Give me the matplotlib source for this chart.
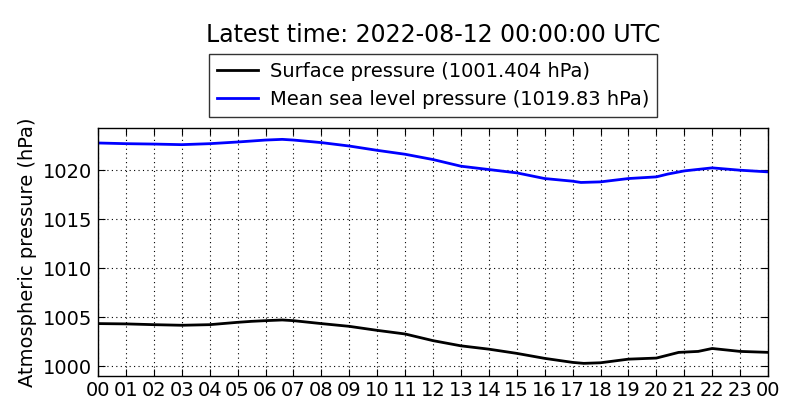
import numpy as np
import matplotlib
matplotlib.use('Agg')
import matplotlib.pyplot as plt

# -------------------------------------------------------------------------
# 데이터 (그림에서 읽은 값, 시간 단위 = UTC hour)
# -------------------------------------------------------------------------
TITLE = 'Latest time: 2022-08-12 00:00:00 UTC'

HOURS_MSL = [0.0, 1.0, 2.0, 3.0, 4.0, 5.0, 6.0, 6.6, 7.0, 8.0, 9.0, 10.0, 11.0,
             12.0, 13.0, 14.0, 15.0, 16.0, 17.0, 17.3, 18.0, 19.0, 20.0, 20.4,
             21.0, 22.0, 23.0, 24.0]
MSL = [1022.78, 1022.71, 1022.67, 1022.61, 1022.71, 1022.88, 1023.08, 1023.15,
       1023.08, 1022.82, 1022.47, 1022.03, 1021.63, 1021.09, 1020.41, 1020.07,
       1019.73, 1019.15, 1018.88, 1018.75, 1018.81, 1019.15, 1019.32, 1019.6,
       1019.93, 1020.24, 1020.0, 1019.83]

HOURS_SFC = [0.0, 1.0, 2.0, 3.0, 4.0, 5.0, 5.5, 6.0, 6.6, 7.0, 8.0, 9.0, 10.0,
             11.0, 12.0, 13.0, 14.0, 15.0, 16.0, 17.0, 17.4, 18.0, 19.0, 20.0,
             20.8, 21.5, 22.0, 23.0, 24.0]
SFC = [1004.34, 1004.31, 1004.23, 1004.17, 1004.23, 1004.47, 1004.57, 1004.64,
       1004.71, 1004.64, 1004.34, 1004.06, 1003.65, 1003.28, 1002.6, 1002.07,
       1001.73, 1001.3, 1000.79, 1000.38, 1000.28, 1000.34, 1000.71, 1000.82,
       1001.4, 1001.5, 1001.8, 1001.5, 1001.404]

SFC_LABEL = 'Surface pressure (1001.404 hPa)'
MSL_LABEL = 'Mean sea level pressure (1019.83 hPa)'

TICK_HOURS = list(range(0, 25))
TICK_LABELS = ['%02d' % (h % 24) for h in TICK_HOURS]
Y_TICKS = [1000, 1005, 1010, 1015, 1020]

# -------------------------------------------------------------------------
# 그리기
# -------------------------------------------------------------------------
fig = plt.figure(figsize=(8, 4.2), dpi=100, facecolor='white')
ax = fig.add_axes([0.1225, 0.105, 0.8375, 0.59])

ax.plot(HOURS_SFC, SFC, color='black', linewidth=2.0, label=SFC_LABEL)
ax.plot(HOURS_MSL, MSL, color='blue', linewidth=2.0, label=MSL_LABEL)

ax.set_xlim(0, 24)
ax.set_ylim(999.0, 1024.3)
ax.set_xticks(TICK_HOURS)
ax.set_xticklabels(TICK_LABELS)
ax.set_yticks(Y_TICKS)
ax.tick_params(direction='in', top=True, right=True, labelsize=14, length=5, pad=4)
ax.grid(True, color='black', linestyle=(0, (1, 3)), linewidth=0.8)
ax.set_ylabel('Atmospheric pressure (hPa)', fontsize=14)
for s in ax.spines.values():
    s.set_linewidth(1.0)

leg = ax.legend(loc='lower center', bbox_to_anchor=(0.5, 1.046), fontsize=14,
                frameon=True, fancybox=False, borderaxespad=0.0,
                handlelength=2.1, handletextpad=0.6, labelspacing=0.45)
leg.get_frame().set_edgecolor('black')
leg.get_frame().set_linewidth(1.0)

fig.text(433 / 800, 1 - 35 / 420, TITLE, ha='center', va='center', fontsize=17)

plt.savefig('out.png', dpi=100, facecolor='white')
plt.close()
